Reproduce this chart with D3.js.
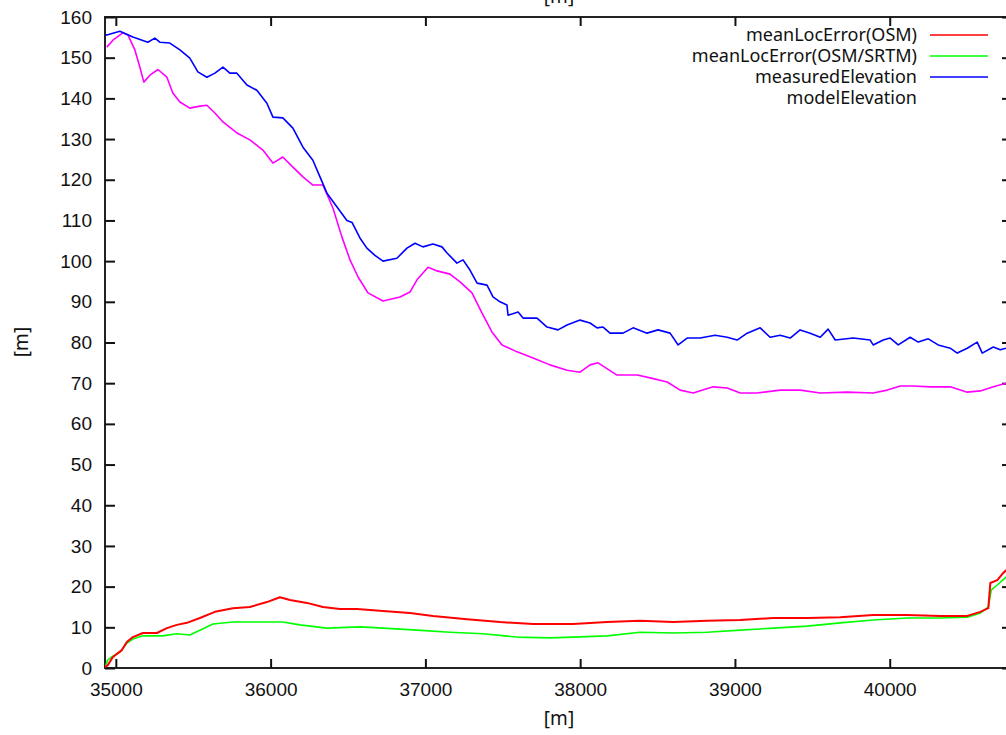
<!DOCTYPE html>
<html>
<head>
<meta charset="utf-8">
<script src="https://cdn.jsdelivr.net/npm/d3@7"></script>
<style>
  html, body { margin: 0; padding: 0; background: #fff; }
  svg { display: block; }
</style>
</head>
<body>
<script>
// tick values
const xTicks = [35000, 36000, 37000, 38000, 39000, 40000];
const yTicks = [0, 10, 20, 30, 40, 50, 60, 70, 80, 90, 100, 110, 120, 130, 140, 150, 160];

// legend entries (modelElevation has no sample line in the original)
const seriesNames = ["meanLocError(OSM)", "meanLocError(OSM/SRTM)", "measuredElevation", "modelElevation"];
const seriesColors = ["#ff0000", "#00ff00", "#0000ff", "#ff00ff"];

// series, [distance m, value m]
const locErrorOSM = [
  [34929,0.2],[34948,0.7],[34981,2.7],[35039,4.4],[35071,6.4],[35110,7.6],[35175,8.6],[35265,8.6],
  [35330,9.8],[35394,10.6],[35459,11.1],[35543,12.3],[35640,13.8],[35756,14.7],[35866,15.0],[35976,16.2],
  [36060,17.4],[36125,16.7],[36235,16.0],[36338,15.0],[36448,14.5],[36558,14.5],[36726,14.0],[36900,13.5],
  [37049,12.8],[37269,12.0],[37482,11.3],[37696,10.8],[37954,10.8],[38174,11.3],[38387,11.6],[38600,11.3],
  [38820,11.6],[39034,11.8],[39247,12.3],[39467,12.3],[39680,12.5],[39893,13.0],[40113,13.0],[40326,12.8],
  [40501,12.8],[40585,13.8],[40637,14.7],[40650,20.9],[40695,21.6],[40727,23.1],[40753,24.1]
];
const locErrorSRTM = [
  [34929,0.2],[34948,2.0],[34981,2.9],[35026,3.9],[35071,6.1],[35110,7.1],[35175,7.9],[35304,7.9],
  [35394,8.4],[35478,8.1],[35543,9.3],[35627,10.8],[35756,11.3],[35976,11.3],[36079,11.3],[36189,10.6],
  [36364,9.8],[36577,10.1],[36726,9.8],[36946,9.3],[37159,8.8],[37372,8.4],[37592,7.6],[37805,7.4],
  [37954,7.6],[38174,7.9],[38387,8.8],[38600,8.6],[38820,8.8],[39034,9.3],[39247,9.8],[39467,10.3],
  [39680,11.1],[39893,11.8],[40113,12.3],[40326,12.3],[40501,12.5],[40585,13.5],[40637,15.0],[40656,19.2],
  [40695,20.4],[40753,22.4]
];
const measuredElevation = [
  [34935,155.6],[34942,155.6],[35026,156.5],[35110,155.1],[35207,153.8],[35252,154.8],[35284,153.8],[35349,153.6],
  [35414,151.9],[35478,149.9],[35530,146.5],[35588,145.2],[35640,146.2],[35692,147.7],[35737,146.2],[35782,146.2],
  [35847,143.3],[35911,142.0],[35976,138.8],[36015,135.4],[36079,135.2],[36144,132.7],[36209,128.0],[36273,124.8],
  [36319,120.7],[36364,116.7],[36429,113.3],[36493,110.0],[36526,109.5],[36577,105.7],[36622,103.2],[36674,101.4],
  [36726,100.0],[36816,100.7],[36881,103.2],[36933,104.4],[36984,103.5],[37049,104.2],[37107,103.5],[37140,102.0],
  [37204,99.5],[37243,100.3],[37288,97.8],[37334,94.6],[37398,94.1],[37437,91.2],[37482,90.0],[37527,89.2],
  [37534,86.7],[37599,87.5],[37631,86.0],[37721,86.0],[37786,83.8],[37857,83.1],[37915,84.3],[37999,85.5],
  [38064,84.8],[38109,83.6],[38148,83.8],[38193,82.3],[38277,82.3],[38342,83.6],[38432,82.3],[38503,83.1],
  [38581,82.3],[38633,79.4],[38691,81.1],[38775,81.1],[38872,81.8],[38950,81.3],[39014,80.6],[39079,82.3],
  [39163,83.6],[39227,81.3],[39292,81.8],[39357,81.1],[39421,83.1],[39486,82.3],[39551,81.3],[39602,83.3],
  [39648,80.6],[39764,81.1],[39874,80.6],[39893,79.4],[39958,80.6],[40003,81.1],[40055,79.4],[40132,81.3],
  [40184,80.1],[40249,80.9],[40313,79.4],[40391,78.6],[40436,77.4],[40501,78.6],[40565,80.1],[40598,77.4],
  [40669,78.9],[40714,78.2],[40753,78.6]
];
const modelElevation = [
  [34942,152.6],[34981,154.3],[35045,156.1],[35078,155.6],[35123,151.9],[35155,147.7],[35181,144.0],[35220,145.7],
  [35272,147.1],[35330,145.2],[35368,141.3],[35414,139.1],[35478,137.6],[35543,138.1],[35588,138.3],[35640,136.4],
  [35692,134.2],[35782,131.5],[35866,129.8],[35950,127.3],[36015,124.1],[36079,125.6],[36144,123.1],[36209,120.7],
  [36273,118.7],[36338,118.7],[36403,113.0],[36461,105.9],[36513,100.3],[36565,96.1],[36629,92.2],[36726,90.2],
  [36836,91.2],[36900,92.4],[36946,95.4],[37017,98.5],[37075,97.6],[37159,96.8],[37224,94.9],[37301,92.2],
  [37366,87.2],[37430,82.6],[37495,79.4],[37592,77.7],[37696,76.2],[37805,74.5],[37915,73.2],[37999,72.7],
  [38064,74.5],[38116,75.0],[38238,72.0],[38368,72.0],[38452,71.3],[38562,70.3],[38646,68.3],[38730,67.6],
  [38859,69.1],[38950,68.8],[39034,67.6],[39143,67.6],[39292,68.3],[39421,68.3],[39551,67.6],[39725,67.8],
  [39893,67.6],[39984,68.3],[40068,69.3],[40152,69.3],[40262,69.1],[40391,69.1],[40501,67.8],[40585,68.1],
  [40669,69.1],[40753,70.0]
];

const width = 1006, height = 735;
const plotLeft = 105, plotRight = 1012, plotTop = 17, plotBottom = 668;

const x = d3.scaleLinear().domain([34930, 40790]).range([plotLeft, plotRight]);
const y = d3.scaleLinear().domain([0, 160]).range([plotBottom, plotTop]);

const svg = d3.select("body").append("svg")
    .attr("width", width)
    .attr("height", height)
    .attr("font-family", "'Noto Sans', sans-serif");

// plot border
svg.append("rect")
    .attr("x", plotLeft).attr("y", plotTop)
    .attr("width", plotRight - plotLeft).attr("height", plotBottom - plotTop)
    .attr("fill", "none")
    .attr("stroke", "#222")
    .attr("stroke-width", 2);

const styleAxis = (g) => {
    g.select(".domain").remove();
    g.selectAll(".tick line").attr("stroke", "#111").attr("stroke-width", 2);
    g.selectAll(".tick text").attr("fill", "#111").attr("font-size", 19);
};

svg.append("g")
    .attr("transform", `translate(${plotLeft},0)`)
    .call(d3.axisLeft(y).tickValues(yTicks).tickSize(-10).tickPadding(13).tickSizeOuter(0))
    .call(styleAxis);

svg.append("g")
    .attr("transform", `translate(${plotRight},0)`)
    .call(d3.axisRight(y).tickValues(yTicks).tickSize(-10).tickFormat("").tickSizeOuter(0))
    .call(styleAxis);

svg.append("g")
    .attr("transform", `translate(0,${plotBottom})`)
    .call(d3.axisBottom(x).tickValues(xTicks).tickSize(-9).tickPadding(15).tickFormat(d3.format("d")).tickSizeOuter(0))
    .call(styleAxis);

svg.append("g")
    .attr("transform", `translate(0,${plotTop})`)
    .call(d3.axisTop(x).tickValues(xTicks).tickSize(-9).tickFormat("").tickSizeOuter(0))
    .call(styleAxis);

// axis labels
svg.append("text")
    .text("[m]")
    .attr("x", 559).attr("y", 725)
    .attr("text-anchor", "middle")
    .attr("font-size", 19).attr("fill", "#111");

svg.append("text")
    .text("[m]")
    .attr("x", 559).attr("y", 3)
    .attr("text-anchor", "middle")
    .attr("font-size", 19).attr("fill", "#111");

svg.append("text")
    .text("[m]")
    .attr("transform", "translate(28,342) rotate(-90)")
    .attr("text-anchor", "middle")
    .attr("font-size", 19).attr("fill", "#111");

// lines
svg.append("clipPath").attr("id", "plot")
    .append("rect").attr("x", plotLeft).attr("y", plotTop)
    .attr("width", plotRight - plotLeft).attr("height", plotBottom - plotTop);

const line = d3.line().x(d => x(d[0])).y(d => y(d[1]));
const series = [locErrorOSM, locErrorSRTM, measuredElevation, modelElevation];
const lineWidths = [2, 1.6, 1.6, 1.6];

const plot = svg.append("g").attr("clip-path", "url(#plot)");
[3, 2, 1, 0].forEach(i => {
    plot.append("path")
        .datum(series[i])
        .attr("d", line)
        .attr("fill", "none")
        .attr("stroke", seriesColors[i])
        .attr("stroke-width", lineWidths[i])
        .attr("stroke-linejoin", "round");
});

// legend
const legendY = d3.scalePoint().domain(seriesNames).range([35, 98]);
seriesNames.forEach((name, i) => {
    svg.append("text")
        .text(name)
        .attr("x", 917)
        .attr("y", legendY(name))
        .attr("dy", "0.35em")
        .attr("text-anchor", "end")
        .attr("font-size", 18)
        .attr("fill", "#111");
    if (i < 3) {
        svg.append("line")
            .attr("x1", 930).attr("x2", 988)
            .attr("y1", legendY(name)).attr("y2", legendY(name))
            .attr("stroke", seriesColors[i])
            .attr("stroke-width", 1.6);
    }
});
</script>
</body>
</html>
